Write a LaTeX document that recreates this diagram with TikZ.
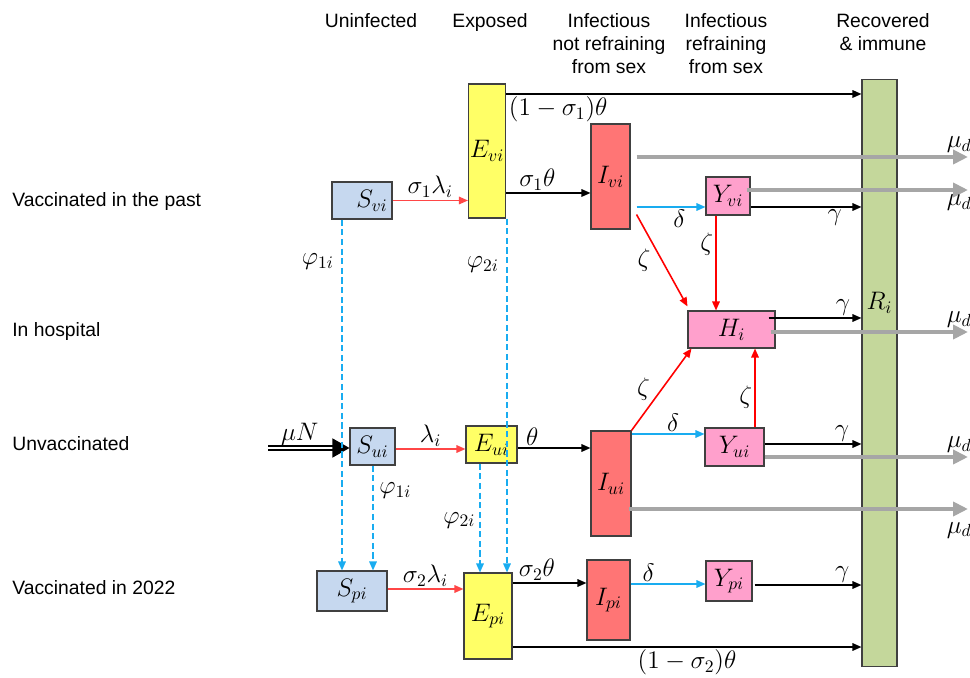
\documentclass[tikz,border=0pt]{standalone}
\usepackage{fontspec}
\setmainfont{Liberation Sans}
\usetikzlibrary{arrows.meta,positioning,calc}
\definecolor{sblue}{RGB}{198,216,239}
\definecolor{eyel}{RGB}{255,255,102}
\definecolor{ired}{RGB}{255,117,117}
\definecolor{ypink}{RGB}{255,160,204}
\definecolor{rgreen}{RGB}{196,215,155}
\definecolor{lred}{RGB}{255,70,70}
\definecolor{cblue}{RGB}{25,172,240}
\definecolor{mgray}{RGB}{166,166,166}
\newcommand{\mathsz}{\fontsize{14}{16}\selectfont}
\tikzset{
  box/.style={draw=black!75, line width=0.6pt, inner sep=0pt, font=\mathsz},
  sbox/.style={box, fill=sblue},
  ebox/.style={box, fill=eyel},
  ibox/.style={box, fill=ired},
  ybox/.style={box, fill=ypink},
  rbox/.style={box, fill=rgreen},
  arr/.style={-{Triangle[length=1.8mm,width=1.5mm]}, line width=0.9pt},
  rarr/.style={arr, lred},
  zarr/.style={arr, red},
  barr/.style={arr, cblue},
  darr/.style={arr, cblue, dash pattern=on 3.5pt off 2pt},
  garr/.style={-{Triangle[length=3mm,width=2.8mm]}, line width=2.6pt, mgray},
  lbl/.style={font=\mathsz, inner sep=1.2pt, text=black},
  head/.style={font=\fontsize{11}{13.3}\selectfont, align=center, anchor=north},
  rowlbl/.style={font=\fontsize{11}{13.3}\selectfont, anchor=west, inner sep=0pt}
}
\begin{document}
\begin{tikzpicture}[x=0.02cm, y=-0.02cm]
  \useasboundingbox (0,0) rectangle (970,678);

  % column and row headings
  \node[head] (hU) at (371,7) {Uninfected};
  \node[head] (hE) at (490,7) {Exposed};
  \node[head] (hI) at (609,7) {Infectious\\not refraining\\from sex};
  \node[head] (hY) at (726,7) {Infectious\\refraining\\from sex};
  \node[head] (hR) at (883,7) {Recovered\\\& immune};
  \node[rowlbl] (rV) at (12,202) {Vaccinated in the past};
  \node[rowlbl] (rH) at (12,332) {In hospital};
  \node[rowlbl] (rU) at (12,444) {Unvaccinated};
  \node[rowlbl] (rP) at (12,588) {Vaccinated in 2022};

  % compartments
  \node[rbox, minimum width=0.7cm, minimum height=11.76cm,
    label={[lbl, yshift=1.4cm]center:$R_i$}] (R) at (879.5,373) {};
  \node[sbox, minimum width=1.2cm, minimum height=0.74cm] (Svi) at (362,200.5) {\hspace{0.4cm}$S_{vi}$};
  \node[ebox, minimum width=0.74cm, minimum height=2.68cm] (Evi) at (487,151) {$E_{vi}$};
  \node[ibox, minimum width=0.78cm, minimum height=2.1cm] (Ivi) at (610.5,176.5) {$I_{vi}$};
  \node[ybox, minimum width=0.88cm, minimum height=0.76cm] (Yvi) at (728,196) {$Y_{vi}$};
  \node[ybox, minimum width=1.74cm, minimum height=0.74cm] (H) at (731.5,329.5) {$H_i$};
  \node[sbox, minimum width=0.9cm, minimum height=0.74cm] (Sui) at (372.5,446.5) {$S_{ui}$};
  \node[ebox, minimum width=1.02cm, minimum height=0.74cm] (Eui) at (491.5,444.5) {$E_{ui}$};
  \node[ibox, minimum width=0.8cm, minimum height=2.1cm] (Iui) at (611,483.5) {$I_{ui}$};
  \node[ybox, minimum width=1.18cm, minimum height=0.76cm] (Yui) at (734.5,447) {$Y_{ui}$};
  \node[sbox, minimum width=1.4cm, minimum height=0.8cm] (Spi) at (352,591) {$S_{pi}$};
  \node[ebox, minimum width=0.96cm, minimum height=1.72cm] (Epi) at (488,616) {$E_{pi}$};
  \node[ibox, minimum width=0.86cm, minimum height=1.6cm] (Ipi) at (608.5,600) {$I_{pi}$};
  \node[ybox, minimum width=0.92cm, minimum height=0.8cm] (Ypi) at (729,581) {$Y_{pi}$};

  % free ends
  \coordinate (in) at (268,448);
  \coordinate (d1) at (968,157);
  \coordinate (d2) at (968,190);
  \coordinate (d3) at (968,332);
  \coordinate (d4) at (968,457);
  \coordinate (d5) at (968,509);

  % vaccinated in the past
  \draw[rarr] (Svi.east) -- (Svi.east -| Evi.west) node[lbl, midway, above] {$\sigma_1\lambda_i$};
  \draw[arr] (Evi.east |- 0,193) -- (Ivi.west |- 0,193) node[lbl, pos=0.37, above] {$\sigma_1\theta$};
  \draw[arr] (Evi.east |- 0,94) -- (R.west |- 0,94) node[lbl, pos=0, below right] {$(1-\sigma_1)\theta$};
  \draw[barr] ([xshift=0.12cm]Ivi.east |- 0,207) -- (Yvi.west |- 0,207) node[lbl, pos=0.62, below] {$\delta$};
  \draw[arr] (Yvi.east |- 0,207) -- (R.west |- 0,207) node[lbl, pos=0.76, below] {$\gamma$};
  \draw[zarr] ($(Ivi.east)+(6,38)$) -- ($(H.north west)+(0,-4)$) node[lbl, midway, left=5pt] {$\zeta$};
  \draw[zarr] (Yvi.south -| 716,0) -- (H.north -| 716,0) node[lbl, pos=0.3, left] {$\zeta$};

  % hospital
  \draw[arr] ([xshift=-0.14cm]H.east |- 0,318) -- (R.west |- 0,318) node[lbl, pos=0.8, above] {$\gamma$};
  \draw[zarr] (Iui.north east) -- ($(H.south west)+(4,0)$) node[lbl, midway, left=5pt] {$\zeta$};
  \draw[zarr] (Yui.north -| 755,0) -- (H.south -| 755,0) node[lbl, pos=0.38, left] {$\zeta$};

  % unvaccinated
  \draw[double, double distance=1.6pt, line width=0.8pt, -{Triangle[length=3.4mm,width=3.8mm]}]
    (in) -- (Sui.west |- in) node[lbl, pos=0.39, above] {$\mu N$};
  \draw[rarr] (Sui.east |- 0,449) -- (Eui.west |- 0,449) node[lbl, midway, above] {$\lambda_i$};
  \draw[arr] (Eui.east |- 0,448) -- (Iui.west |- 0,448) node[lbl, pos=0.2, above] {$\theta$};
  \draw[barr] (Iui.east |- 0,434) -- (Yui.west |- 0,434) node[lbl, pos=0.57, above] {$\delta$};
  \draw[arr] (Yui.east |- 0,444) -- (R.west |- 0,444) node[lbl, pos=0.8, above] {$\gamma$};

  % vaccinated in 2022
  \draw[rarr] (Spi.east |- 0,589) -- (Epi.west |- 0,589) node[lbl, midway, above] {$\sigma_2\lambda_i$};
  \draw[arr] (Epi.east |- 0,583) -- (Ipi.west |- 0,583) node[lbl, pos=0.33, above] {$\sigma_2\theta$};
  \draw[barr] (Ipi.east |- 0,584) -- (Ypi.west |- 0,584) node[lbl, pos=0.24, above] {$\delta$};
  \draw[arr] ([xshift=0.04cm]Ypi.east |- 0,585) -- (R.west |- 0,585) node[lbl, pos=0.82, above] {$\gamma$};
  \draw[arr] (Epi.east |- 0,647) -- (R.west |- 0,647) node[lbl, pos=0.5, below] {$(1-\sigma_2)\theta$};

  % vaccination
  \draw[darr] (Svi.south -| 342,0) -- (Spi.north -| 342,0) node[lbl, pos=0.12, left=3pt] {$\varphi_{1i}$};
  \draw[darr] (Sui.south -| 373,0) -- (Spi.north -| 373,0) node[lbl, pos=0.24, right=2pt] {$\varphi_{1i}$};
  \draw[darr] (Evi.south -| 507,0) -- (Epi.north -| 507,0) node[lbl, pos=0.13, left=3pt] {$\varphi_{2i}$};
  \draw[darr] (Eui.south -| 480,0) -- (Epi.north -| 480,0) node[lbl, pos=0.52, left=1pt] {$\varphi_{2i}$};

  % deaths
  \draw[garr] ([xshift=0.12cm]Ivi.east |- d1) -- (d1) node[lbl, pos=1, above, xshift=-5pt] {$\mu_d$};
  \draw[garr] ([xshift=-0.08cm]Yvi.east |- d2) -- (d2) node[lbl, pos=1, below, xshift=-5pt] {$\mu_d$};
  \draw[garr] ([xshift=-0.1cm]H.east |- d3) -- (d3) node[lbl, pos=1, above, xshift=-5pt] {$\mu_d$};
  \draw[garr] (Yui.east |- d4) -- (d4) node[lbl, pos=1, above, xshift=-5pt] {$\mu_d$};
  \draw[garr] ([xshift=-0.06cm]Iui.east |- d5) -- (d5) node[lbl, pos=1, below=5pt, xshift=-5pt] {$\mu_d$};
\end{tikzpicture}
\end{document}
